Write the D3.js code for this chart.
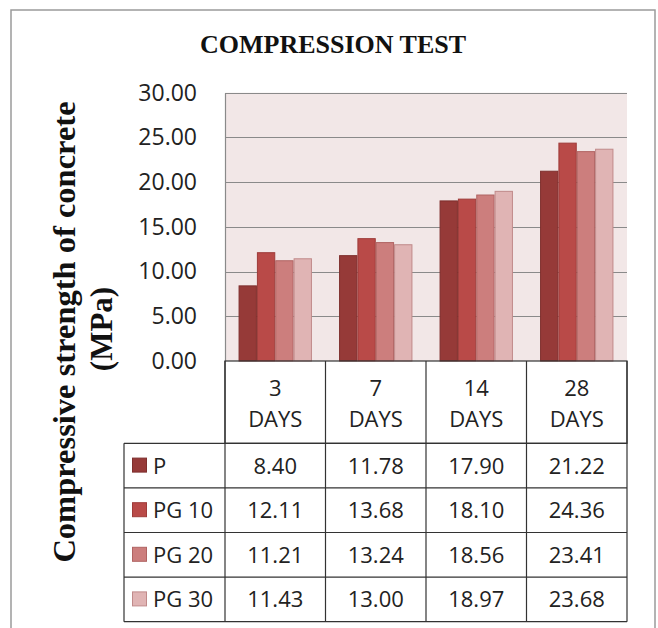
<!DOCTYPE html>
<html>
<head>
<meta charset="utf-8">
<script src="https://cdn.jsdelivr.net/npm/d3@7"></script>
<style>
  html, body { margin: 0; padding: 0; background: #ffffff; }
  svg { display: block; }
</style>
</head>
<body>
<div id="chart"></div>
<script>
// ---- data ----
const categories = ["3", "7", "14", "28"];
const categoryUnit = "DAYS";
const seriesNames = ["P", "PG 10", "PG 20", "PG 30"];
const seriesP    = [8.40, 11.78, 17.90, 21.22];
const seriesPG10 = [12.11, 13.68, 18.10, 24.36];
const seriesPG20 = [11.21, 13.24, 18.56, 23.41];
const seriesPG30 = [11.43, 13.00, 18.97, 23.68];
const seriesColors = ["#963A38", "#B94A48", "#CC7E7D", "#E0B4B4"];
const seriesStroke = ["#7E2F2D", "#9E3B39", "#B06362", "#C08A8A"];
const yTicks = [0, 5, 10, 15, 20, 25, 30];
const titleText = "COMPRESSION TEST";
const yTitleLines = ["Compressive strength of concrete", "(MPa)"];

const seriesValues = [seriesP, seriesPG10, seriesPG20, seriesPG30];

// ---- layout ----
const W = 658, H = 628;
const plot = { left: 225, right: 627, top: 92.7, bottom: 361 };
const headerBottom = 443.3;
const rowH = 44.6;
const legendLeft = 124;
const uiFont = "'Open Sans', 'Liberation Sans', sans-serif";
const serif = "'Liberation Serif', 'Times New Roman', serif";

const svg = d3.select("#chart").append("svg")
  .attr("width", W).attr("height", H);

// outer frame
svg.append("rect")
  .attr("x", 11).attr("y", 10).attr("width", 644).attr("height", 640)
  .attr("fill", "#fff").attr("stroke", "#9a9a9a").attr("stroke-width", 1.5);

// title
svg.append("text")
  .attr("x", 333).attr("y", 53)
  .attr("text-anchor", "middle")
  .attr("font-family", serif).attr("font-weight", "bold")
  .attr("font-size", 26).attr("fill", "#111")
  .text(titleText);

// scales
const x0 = d3.scaleBand().domain(categories).range([plot.left, plot.right]).padding(0);
const groupFrac = 0.73;
const x1 = d3.scaleBand().domain(seriesNames)
  .range([x0.bandwidth() * (1 - groupFrac) / 2, x0.bandwidth() * (1 + groupFrac) / 2])
  .padding(0);
const y = d3.scaleLinear().domain([0, 30]).range([plot.bottom, plot.top]);

// plot background
svg.append("rect")
  .attr("x", plot.left).attr("y", plot.top)
  .attr("width", plot.right - plot.left).attr("height", plot.bottom - plot.top)
  .attr("fill", "#F2E7E7");

// gridlines
svg.append("g").selectAll("line")
  .data(yTicks.filter(d => d > 0))
  .join("line")
  .attr("x1", plot.left).attr("x2", plot.right)
  .attr("y1", d => Math.round(y(d)) + 0.5).attr("y2", d => Math.round(y(d)) + 0.5)
  .attr("stroke", "#8a8a8a").attr("stroke-width", 1.2);

// y axis
const yAxis = d3.axisLeft(y).tickValues(yTicks).tickFormat(d3.format(".2f")).tickSize(0).tickPadding(28);
const gy = svg.append("g").attr("transform", `translate(${plot.left},0)`).call(yAxis);
gy.select(".domain").attr("stroke", "#8a8a8a").attr("stroke-width", 1.2);
gy.selectAll("text")
  .attr("font-family", uiFont).attr("font-size", 23).attr("fill", "#222");

// bars
const groups = svg.append("g").selectAll("g")
  .data(categories)
  .join("g")
  .attr("transform", d => `translate(${x0(d)},0)`);

groups.selectAll("rect")
  .data((c, ci) => seriesNames.map((s, si) => ({ s, si, v: seriesValues[si][ci] })))
  .join("rect")
  .attr("x", d => x1(d.s) + 0.5)
  .attr("y", d => y(d.v))
  .attr("width", x1.bandwidth() - 1)
  .attr("height", d => y(0) - y(d.v))
  .attr("fill", d => seriesColors[d.si])
  .attr("stroke", d => seriesStroke[d.si])
  .attr("stroke-width", 1);

// ---- data table ----
const tbl = svg.append("g");
const lineColor = "#333";
const tableBottom = headerBottom + rowH * seriesNames.length;

// header box
tbl.append("rect")
  .attr("x", plot.left).attr("y", plot.bottom)
  .attr("width", plot.right - plot.left).attr("height", headerBottom - plot.bottom)
  .attr("fill", "none").attr("stroke", lineColor).attr("stroke-width", 1.2);

// horizontal row lines
const rowLines = d3.range(seriesNames.length + 1).map(i => headerBottom + i * rowH);
tbl.selectAll("line.h")
  .data(rowLines)
  .join("line")
  .attr("class", "h")
  .attr("x1", legendLeft).attr("x2", plot.right)
  .attr("y1", d => d).attr("y2", d => d)
  .attr("stroke", lineColor).attr("stroke-width", 1.2);

// vertical lines
const colEdges = categories.map(c => x0(c)).concat([plot.right]);
tbl.selectAll("line.v")
  .data(colEdges)
  .join("line")
  .attr("class", "v")
  .attr("x1", d => d).attr("x2", d => d)
  .attr("y1", plot.bottom).attr("y2", tableBottom)
  .attr("stroke", lineColor).attr("stroke-width", 1.2);
tbl.append("line")
  .attr("x1", legendLeft).attr("x2", legendLeft)
  .attr("y1", headerBottom).attr("y2", tableBottom)
  .attr("stroke", lineColor).attr("stroke-width", 1.2);

// header labels
const hdr = tbl.selectAll("g.hdr").data(categories).join("g").attr("class", "hdr");
hdr.append("text")
  .attr("x", d => x0(d) + x0.bandwidth() / 2).attr("y", 396)
  .attr("text-anchor", "middle")
  .attr("font-family", uiFont).attr("font-size", 22).attr("fill", "#222")
  .text(d => d);
hdr.append("text")
  .attr("x", d => x0(d) + x0.bandwidth() / 2).attr("y", 427)
  .attr("text-anchor", "middle")
  .attr("font-family", uiFont).attr("font-size", 22).attr("fill", "#222")
  .text(categoryUnit);

// rows
const rows = tbl.selectAll("g.row").data(seriesNames).join("g").attr("class", "row")
  .attr("transform", (d, i) => `translate(0,${headerBottom + i * rowH})`);
rows.append("rect")
  .attr("x", 132.5).attr("y", rowH / 2 - 7.5)
  .attr("width", 14).attr("height", 14)
  .attr("fill", (d, i) => seriesColors[i])
  .attr("stroke", (d, i) => seriesStroke[i]).attr("stroke-width", 1);
rows.append("text")
  .attr("x", 153).attr("y", rowH / 2 + 8)
  .attr("font-family", uiFont).attr("font-size", 22).attr("fill", "#222")
  .text(d => d);
rows.selectAll("text.val")
  .data((d, i) => seriesValues[i].map((v, ci) => ({ v, c: categories[ci] })))
  .join("text")
  .attr("class", "val")
  .attr("x", d => x0(d.c) + x0.bandwidth() / 2).attr("y", rowH / 2 + 8)
  .attr("text-anchor", "middle")
  .attr("font-family", uiFont).attr("font-size", 22).attr("fill", "#222")
  .text(d => d3.format(".2f")(d.v));

// y axis title (rotated)
const yt = svg.append("g");
yt.append("text")
  .attr("transform", `translate(75,332) rotate(-90)`)
  .attr("text-anchor", "middle")
  .attr("font-family", serif).attr("font-weight", "bold")
  .attr("font-size", 32.5).attr("fill", "#111")
  .text(yTitleLines[0]);
yt.append("text")
  .attr("transform", `translate(112,329) rotate(-90)`)
  .attr("text-anchor", "middle")
  .attr("font-family", serif).attr("font-weight", "bold")
  .attr("font-size", 31).attr("fill", "#111")
  .text(yTitleLines[1]);
</script>
</body>
</html>
